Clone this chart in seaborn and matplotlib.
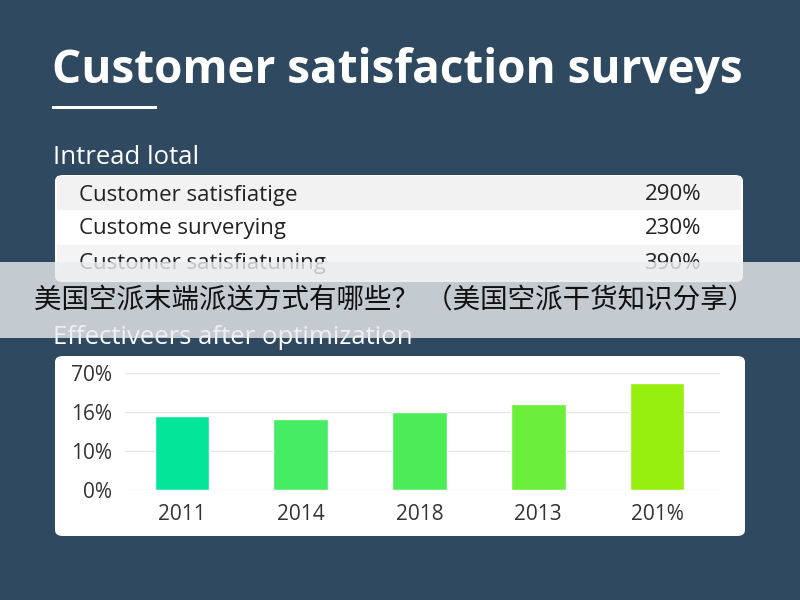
import matplotlib
matplotlib.use("Agg")
import matplotlib.pyplot as plt
import seaborn as sns
import pandas as pd
from matplotlib.patches import FancyBboxPatch, Rectangle

# data
title = "Customer satisfaction surveys"
table_title = "Intread lotal"
row_names = ["Customer satisfiatige", "Custome surverying", "Customer satisfiatuning"]
row_values = ["290%", "230%", "390%"]
banner_text = "美国空派末端派送方式有哪些？ （美国空派干货知识分享）"
chart_title = "Effectiveers after optimization"
years = ["2011", "2014", "2018", "2013", "201%"]
# heights measured in grid steps (the y labels are not linear)
heights = [1.90, 1.83, 2.00, 2.20, 2.74]
ytick_labels = ["0%", "10%", "16%", "70%"]
bar_colors = ["#03e69a", "#46ec63", "#4bec55", "#6bef3b", "#97ef10"]

BG = "#2f4a60"

sns.set_style("white")
plt.rcParams['font.family'] = ['Open Sans', 'DejaVu Sans']

fig = plt.figure(figsize=(8, 6), dpi=100)
fig.patch.set_facecolor(BG)

W, H = 800, 600
def fx(px):
    return px / W
def fy(py):
    return 1 - py / H

# title + underline
fig.text(fx(52), fy(70), title, color="white", fontsize=33, fontweight="bold",
         va="center", ha="left")
fig.patches.append(Rectangle((fx(52), fy(109)), fx(105), 3 / H, transform=fig.transFigure,
                             facecolor="white", edgecolor="none", zorder=1))

# table block
fig.text(fx(53), fy(158), table_title, color="white", fontsize=18.5, va="center")
fig.patches.append(FancyBboxPatch((fx(55), fy(282)), fx(688), 107 / H,
                                  boxstyle="round,pad=0,rounding_size=0.01",
                                  transform=fig.transFigure, facecolor="white",
                                  edgecolor="none", zorder=1))
row_tops = [176, 210, 245]
row_fill = ["#f2f2f2", "white", "#f4f4f4"]
for i, (name, val) in enumerate(zip(row_names, row_values)):
    top = row_tops[i]
    h = 35
    fig.patches.append(Rectangle((fx(57), fy(top + h)), fx(684), h / H,
                                 transform=fig.transFigure, facecolor=row_fill[i],
                                 edgecolor="none", zorder=1))
    fig.text(fx(79), fy(top + 19), name, color="#222222", fontsize=16, va="center")
    fig.text(fx(701), fy(top + 19), val, color="#222222", fontsize=16, va="center", ha="right")

# bar chart block
fig.text(fx(53), fy(338), chart_title, color="white", fontsize=18.5, va="center")
fig.patches.append(FancyBboxPatch((fx(55), fy(536)), fx(690), 180 / H,
                                  boxstyle="round,pad=0,rounding_size=0.01",
                                  transform=fig.transFigure, facecolor="white",
                                  edgecolor="none", zorder=1))

ax = fig.add_axes([fx(125), fy(490), fx(595), 117 / H])
ax.set_zorder(2)
ax.patch.set_visible(False)
df = pd.DataFrame({"year": years, "value": heights})
sns.barplot(data=df, x="year", y="value", hue="year", palette=bar_colors,
            order=years, legend=False, width=0.46, saturation=1, ax=ax, zorder=3)
ax.set_xlim(-0.48, 4.53)
ax.set_ylim(0, 3)
ax.set_yticks(range(len(ytick_labels)))
ax.set_yticklabels(ytick_labels)
ax.grid(axis="y", color="#e6e6e6", linewidth=1)
ax.set_axisbelow(True)
for s in ax.spines.values():
    s.set_visible(False)
ax.tick_params(axis="y", length=0, pad=9, labelsize=15, labelcolor="#333333")
ax.tick_params(axis="x", length=0, pad=10, labelsize=15, labelcolor="#333333")
ax.set_xlabel("")
ax.set_ylabel("")

# grey banner over everything
fig.patches.append(Rectangle((0, fy(338)), 1, 76 / H, transform=fig.transFigure,
                             facecolor="#e9ecee", alpha=0.8, edgecolor="none", zorder=5))
fig.text(fx(395), fy(301), banner_text, color="#111111", fontsize=19.8,
         family=['Noto Sans CJK SC', 'DejaVu Sans'], va="center", ha="center", zorder=6)

fig.savefig("out.png", dpi=100, facecolor=BG)
